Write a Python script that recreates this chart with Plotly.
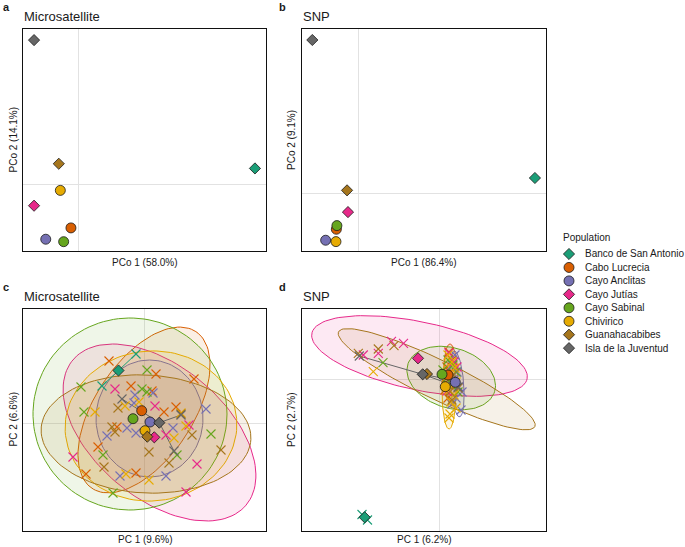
import numpy as np
import plotly.graph_objects as go

populations = ["Banco de San Antonio", "Cabo Lucrecia", "Cayo Anclitas", "Cayo Jutías",
               "Cayo Sabinal", "Chivirico", "Guanahacabibes", "Isla de la Juventud"]
colors = ["#1B9E77", "#D95F02", "#7570B3", "#E7298A", "#66A61E", "#E6AB02", "#A6761D", "#666666"]
symbols = ["diamond", "circle", "circle", "diamond", "circle", "circle", "diamond", "diamond"]

# Panel a: PCoA microsatellite (population coordinates)
pco_msat_x = [0.80, -0.033, -0.147, -0.20, -0.066, -0.081, -0.088, -0.20]
pco_msat_y = [0.072, -0.196, -0.247, -0.096, -0.258, -0.027, 0.093, 0.65]
# Panel b: PCoA SNP
pco_snp_x = [0.941, -0.117, -0.174, -0.055, -0.114, -0.119, -0.060, -0.245]
pco_snp_y = [0.069, -0.155, -0.203, -0.080, -0.139, -0.209, 0.015, 0.672]

# Panel c: PCA microsatellite, individuals
msat_ind_x = [
    [-0.08, -0.42],
    [-0.35, 0.12, -0.13, 0.50, 0.08, 0.20, 0.32, -0.27, -0.46, -0.58, -0.08],
    [-0.09, 0.09, -0.10, 0.62, 0.29, -0.17, -0.37, -0.08, -0.24, 0.22],
    [-0.29, 0.11, 0.45, 0.22, -0.71, 0.53, 0.42],
    [-0.63, -0.60, 0.03, -0.02, 0.03, -0.41, -0.31, 0.33, 0.67],
    [-0.19, -0.49, -0.05, 0.37, 0.42, 0.30, -0.18, 0.05],
    [-0.26, -0.32, -0.29, -0.40, 0.48, 0.05, 0.77, 0.25, 0.37],
    [-0.22, 0.37, 0.30],
]
msat_ind_y = [
    [0.69, 0.37],
    [0.62, 0.49, 0.37, 0.44, 0.32, 0.11, 0.16, -0.04, -0.24, -0.51, -0.50],
    [0.28, 0.30, 0.20, 0.14, -0.05, -0.05, -0.13, -0.10, -0.53, -0.53],
    [0.34, 0.17, -0.02, -0.12, -0.34, -0.41, -0.69],
    [0.36, 0.11, 0.53, 0.34, 0.31, -0.32, -0.70, -0.32, -0.11],
    [0.17, 0.11, 0.21, 0.10, -0.03, -0.15, -0.51, -0.57],
    [0.15, -0.04, -0.09, -0.44, -0.12, -0.29, -0.27, -0.40, 0.09],
    [0.24, 0.08, -0.28],
]
msat_cen_x = [-0.255, -0.023, 0.06, 0.103, -0.11, 0.01, 0.033, 0.153]
msat_cen_y = [0.525, 0.123, 0.01, -0.143, 0.043, -0.077, -0.137, 0.003]
msat_ell_cx = [None, 0.0, 0.055, 0.155, -0.14, 0.07, 0.02, None]
msat_ell_cy = [None, 0.13, 0.045, -0.095, 0.09, -0.03, -0.11, None]
msat_ell_a = [None, 0.94, 0.585, 1.13, 0.97, 0.86, 1.05, None]
msat_ell_b = [None, 0.49, 0.535, 0.66, 0.96, 0.75, 0.59, None]
msat_ell_ang = [None, 56.5, 90, -40, 0, 5, -3, None]

# Panel d: PCA SNP, individuals
snp_ind_x = [
    [-0.77, -0.715],
    [0.10, 0.13, 0.08, 0.11, 0.07, 0.10, 0.06, 0.09],
    [0.16, 0.13, 0.18, 0.15, 0.20, 0.23, 0.17, 0.13, 0.22],
    [-0.475, -0.355, -0.607, -0.757, 0.10, 0.15, 0.18, 0.08],
    [-0.56, 0.09, 0.14, 0.17, 0.08, 0.13, 0.19, 0.04],
    [-0.657, 0.09, 0.13, 0.16, 0.11, 0.17, 0.10, 0.15, 0.12, 0.17, 0.11, 0.10],
    [-0.45, -0.607, -0.807, 0.11, 0.16, 0.11, 0.13, 0.19, 0.14],
    [-0.797, 0.13, 0.19],
]
snp_ind_y = [
    [-1.355, -1.41],
    [0.27, 0.19, 0.12, 0.07, 0.01, -0.06, -0.11, -0.19],
    [0.24, 0.14, 0.07, -0.01, -0.08, -0.13, -0.19, -0.25, -0.31],
    [0.377, 0.357, 0.257, 0.24, 0.26, 0.17, 0.12, -0.12],
    [0.163, 0.19, 0.14, 0.07, 0.01, -0.06, -0.13, 0.09],
    [0.073, 0.24, 0.17, 0.11, 0.04, -0.03, -0.11, -0.16, -0.23, -0.29, -0.35, -0.39],
    [0.333, 0.30, 0.257, 0.01, -0.06, -0.127, -0.21, -0.09, 0.04],
    [0.23, -0.01, -0.08],
]
snp_cen_x = [-0.743, 0.09, 0.163, -0.21, 0.03, 0.063, -0.12, -0.163]
snp_cen_y = [-1.383, 0.04, -0.033, 0.207, 0.047, -0.077, 0.05, 0.047]
snp_ell_cx = [None, 0.12, 0.18, -0.195, 0.122, 0.10, -0.023, None]
snp_ell_cy = [None, 0.04, -0.05, 0.23, 0.01, -0.12, -0.002, None]
snp_ell_a = [None, 0.31, 0.33, 1.10, 0.455, 0.38, 1.09, None]
snp_ell_b = [None, 0.07, 0.067, 0.34, 0.30, 0.07, 0.195, None]
snp_ell_ang = [None, 92, 94.4, -12, -17.6, 90, -25.8, None]

spider_groups = [0, 7]  # groups drawn with segments to the centroid

FONT = "Liberation Sans, Arial, sans-serif"
TXT = "#1a1a1a"
W, H = 685, 547


def rgba(hexc, a):
    h = hexc.lstrip("#")
    return "rgba(%d,%d,%d,%.3f)" % (int(h[0:2], 16), int(h[2:4], 16), int(h[4:6], 16), a)


def ellipse(cx, cy, a, b, ang, n=120):
    t = np.linspace(0, 2 * np.pi, n)
    th = np.deg2rad(ang)
    x = cx + a * np.cos(t) * np.cos(th) - b * np.sin(t) * np.sin(th)
    y = cy + a * np.cos(t) * np.sin(th) + b * np.sin(t) * np.cos(th)
    return x, y


fig = go.Figure()


def add_centroids(xs, ys, ax):
    for i in range(len(populations)):
        sym = symbols[i]
        fig.add_trace(go.Scatter(
            x=[xs[i]], y=[ys[i]], mode="markers", xaxis="x" + ax, yaxis="y" + ax,
            marker=dict(symbol=sym, size=8.6 if sym == "diamond" else 10, color=colors[i],
                        line=dict(color="#1a1a1a", width=0.8)),
            showlegend=False, hoverinfo="skip"))


def add_pca(ind_x, ind_y, cx, cy, ecx, ecy, ea, eb, eang, ax):
    for i in range(len(populations)):
        if ecx[i] is None:
            continue
        x, y = ellipse(ecx[i], ecy[i], ea[i], eb[i], eang[i])
        fig.add_trace(go.Scatter(
            x=x, y=y, mode="lines", fill="toself", fillcolor=rgba(colors[i], 0.1),
            line=dict(color=colors[i], width=1), xaxis="x" + ax, yaxis="y" + ax,
            showlegend=False, hoverinfo="skip"))
    for i in spider_groups:
        sx, sy = [], []
        for px, py in zip(ind_x[i], ind_y[i]):
            sx += [cx[i], px, None]
            sy += [cy[i], py, None]
        fig.add_trace(go.Scatter(
            x=sx, y=sy, mode="lines", line=dict(color=colors[i], width=1),
            xaxis="x" + ax, yaxis="y" + ax, showlegend=False, hoverinfo="skip"))
    for i in range(len(populations)):
        fig.add_trace(go.Scatter(
            x=ind_x[i], y=ind_y[i], mode="markers", xaxis="x" + ax, yaxis="y" + ax,
            marker=dict(symbol="x-thin", size=9, color=colors[i],
                        line=dict(color=colors[i], width=1.1)),
            showlegend=False, hoverinfo="skip"))
    add_centroids(cx, cy, ax)


add_centroids(pco_msat_x, pco_msat_y, "")
add_centroids(pco_snp_x, pco_snp_y, "2")
add_pca(msat_ind_x, msat_ind_y, msat_cen_x, msat_cen_y, msat_ell_cx, msat_ell_cy,
        msat_ell_a, msat_ell_b, msat_ell_ang, "3")
add_pca(snp_ind_x, snp_ind_y, snp_cen_x, snp_cen_y, snp_ell_cx, snp_ell_cy,
        snp_ell_a, snp_ell_b, snp_ell_ang, "4")

# legend markers (in a pixel-space helper axis placed right of the panels)
leg_y0, leg_dy = 254, 13.45
for i in range(len(populations)):
    sym = symbols[i]
    fig.add_trace(go.Scatter(
        x=[569], y=[leg_y0 + leg_dy * i], mode="markers", xaxis="x5", yaxis="y5",
        marker=dict(symbol=sym, size=8.6 if sym == "diamond" else 10, color=colors[i],
                    line=dict(color="#1a1a1a", width=0.8)),
        showlegend=False, hoverinfo="skip"))


def px_x(p):
    return p / W


def px_y(p):
    return 1 - p / H


panels = {
    "": dict(x=(23, 266), y=(29, 251), xr=[-0.25, 0.85], yr=[-0.3, 0.7]),
    "2": dict(x=(302, 546), y=(29, 251), xr=[-0.3, 1.0], yr=[-0.25, 0.72]),
    "3": dict(x=(23, 266), y=(309, 531), xr=[-1.21, 1.22], yr=[-1.08, 1.14]),
    "4": dict(x=(302, 546), y=(309, 531), xr=[-1.37, 1.07], yr=[-1.52, 0.70]),
}
layout = {}
for key, p in panels.items():
    common = dict(showticklabels=False, ticks="", showgrid=False, zeroline=True,
                  zerolinecolor="#e2e2e2", zerolinewidth=1, showline=True, mirror=True,
                  linecolor="#111111", linewidth=1.3, fixedrange=True)
    layout["xaxis" + key] = dict(domain=[px_x(p["x"][0]), px_x(p["x"][1])], range=p["xr"],
                                 anchor="y" + key, **common)
    layout["yaxis" + key] = dict(domain=[px_y(p["y"][1]), px_y(p["y"][0])], range=p["yr"],
                                 anchor="x" + key, **common)
layout["xaxis5"] = dict(domain=[556 / W, 1], range=[556, 685], visible=False, anchor="y5")
layout["yaxis5"] = dict(domain=[0, 1], range=[547, 0], visible=False, anchor="x5")

ann = []


def text(x, y, s, size=10, xanchor="center", angle=0, bold=False):
    ann.append(dict(x=px_x(x), y=px_y(y), xref="paper", yref="paper", text=("<b>%s</b>" % s) if bold else s,
                    showarrow=False, xanchor=xanchor, yanchor="middle", textangle=angle,
                    font=dict(family=FONT, size=size, color=TXT)))


text(1, 7, "a", 11, "left", bold=True)
text(277, 7, "b", 11, "left", bold=True)
text(1, 287, "c", 11, "left", bold=True)
text(277, 287, "d", 11, "left", bold=True)
text(22, 17, "Microsatellite", 13, "left")
text(301, 17, "SNP", 13, "left")
text(22, 296, "Microsatellite", 13, "left")
text(301, 296, "SNP", 13, "left")
text(144.5, 262, "PCo 1 (58.0%)")
text(424, 262, "PCo 1 (86.4%)")
text(144.5, 539, "PC 1 (9.6%)")
text(424, 539, "PC 1 (6.2%)")
text(12.5, 140, "PCo 2 (14.1%)", angle=-90)
text(291, 140, "PCo 2 (9.1%)", angle=-90)
text(12.5, 420, "PC 2 (6.6%)", angle=-90)
text(291, 420, "PC 2 (2.7%)", angle=-90)
text(561, 237, "Population", 10, "left")
for i, name in enumerate(populations):
    text(583, leg_y0 + leg_dy * i, name, 10, "left")

fig.update_layout(width=W, height=H, margin=dict(l=0, r=0, t=0, b=0),
                  paper_bgcolor="white", plot_bgcolor="rgba(0,0,0,0)", showlegend=False,
                  annotations=ann, font=dict(family=FONT, color=TXT), **layout)
fig.write_html("out.html", config={"displayModeBar": False},
               post_script="document.body.style.margin='0';document.body.style.padding='0';"
                           "document.body.style.overflow='hidden';")
